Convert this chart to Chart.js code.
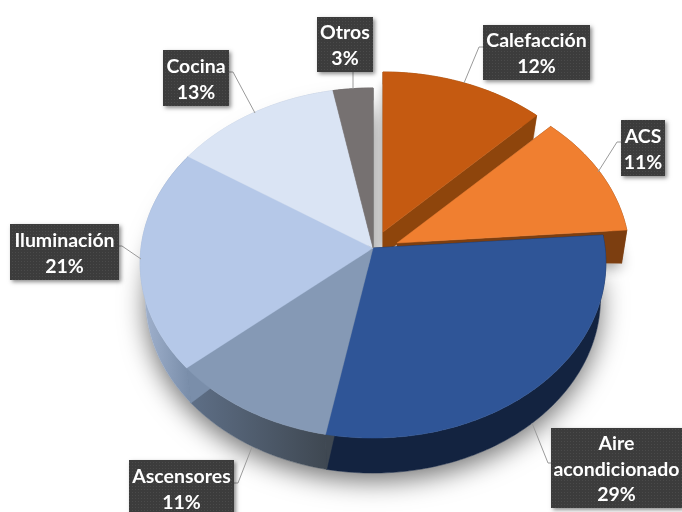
<!DOCTYPE html>
<html><head><meta charset="utf-8">
<style>html,body{margin:0;padding:0;background:#fff;overflow:hidden}canvas{display:block}</style>
<script src="https://cdn.jsdelivr.net/npm/chart.js@4"></script>
</head><body><canvas id="c" width="682" height="512"></canvas>
<script>
const categories = ['Calefacción','ACS','Aire acondicionado','Ascensores','Iluminación','Cocina','Otros'];
const shares = [12.4, 11.4, 29.2, 10.7, 20.6, 12.7, 3.0];
const topColors = ['#C55A11','#F07F30','#2F5597','#8599B5','#B5C8E8','#DAE4F4','#767171'];
const wallStart = ['#8E450C','#7C3E10','#132340','#5F7088','#A3B4D0','#C4CEDE','#5A5656'];
const wallEnd   = ['#8E450C','#7C3E10','#132340','#3F4852','#7A8EAA','#AEB9CC','#4A4747'];
const labelText = [['Calefacción'],['ACS'],['Aire','acondicionado'],['Ascensores'],['Iluminación'],['Cocina'],['Otros']];

// layout of the picture, not data
const explode = [[10,-16],[24,-5],[0,0],[0,0],[0,0],[0,0],[0,0]];
const faceExtra = [5,0,0,0,0,0,0];
const boxes = [[483,25,107,55],[621,120,44,56],[551,428,131,80],[129,460,105,56],[10,224,109,56],[163,50,66,56],[317,17,56,55]];
const leaders = [
  [[464,83],[479,47],[483,47]],
  [[598,172],[617,142],[621,142]],
  [[532,423],[548,463],[551,463]],
  [[252,447],[238,483],[234,483]],
  [[141,259],[122,246],[119,246]],
  [[255,113],[233,72],[229,72]],
  [[353,89],[353,72]]
];
const K = -0.0857, FLAT = 0.749, SHRINK = 0.977;

function project(arc, dx, dy, t, r){
  const ux = Math.cos(t)*r, uy = Math.sin(t)*r, w = 1 + K*uy;
  return [arc.x + dx + arc.outerRadius*ux/w, arc.y + dy + FLAT*arc.outerRadius*uy/w, ux, uy, r];
}
function lowerPoint(arc, dx, dy, p){
  const edge = p[3] >= 0 ? 35 : 35 + (p[3]/Math.max(p[4],1e-6))*22.5;
  const d = 18 + p[4]*(edge-18);
  const cx = arc.x + dx;
  return [cx + (p[0]-cx)*(1-(1-SHRINK)*p[4]), p[1]+d];
}
function rim(arc, dx, dy){
  const pts = [], n = Math.max(2, Math.ceil((arc.endAngle-arc.startAngle)/0.015));
  for(let i=0;i<=n;i++) pts.push(project(arc,dx,dy,arc.startAngle+(arc.endAngle-arc.startAngle)*i/n,1));
  return pts;
}
function poly(ctx, pts){ pts.forEach((p,i)=> i?ctx.lineTo(p[0],p[1]):ctx.moveTo(p[0],p[1])); ctx.closePath(); }

function wallFace(ctx, arc, i){
  const [dx,dy] = explode[i], pts = rim(arc,dx,dy), low = pts.map(p=>lowerPoint(arc,dx,dy,p));
  const apexT = project(arc,dx,dy,arc.startAngle,0), apexB = lowerPoint(arc,dx,dy,apexT);
  let xs = pts.map(p=>p[0]);
  const g = ctx.createLinearGradient(Math.min(...xs),0,Math.max(...xs),0);
  g.addColorStop(0,wallStart[i]); g.addColorStop(1,wallEnd[i]);
  ctx.fillStyle = g; ctx.strokeStyle = g; ctx.lineWidth = .5;
  const e = faceExtra[i];
  [pts[0],pts[pts.length-1]].forEach((p,j)=>{
    const b = j?low[low.length-1]:low[0];
    ctx.beginPath(); poly(ctx,[apexT,p,[b[0],b[1]+(j?e:0)],[apexB[0],apexB[1]+(j?e:0)]]); ctx.fill(); ctx.stroke();
  });
  ctx.beginPath(); poly(ctx,[...pts,...low.slice().reverse()]); ctx.fill(); ctx.stroke();
}
function topFace(ctx, arc, i){
  const [dx,dy] = explode[i];
  const apex = project(arc,dx,dy,arc.startAngle,0);
  ctx.fillStyle = arc.options.backgroundColor; ctx.strokeStyle = arc.options.backgroundColor; ctx.lineWidth=.5;
  ctx.beginPath(); poly(ctx,[apex,...rim(arc,dx,dy)]); ctx.fill(); ctx.stroke();
}
function sliceShadow(ctx, arc, i, blur, off, col){
  const [dx,dy] = explode[i];
  const pts = rim(arc,dx,dy), low = pts.map(p=>lowerPoint(arc,dx,dy,p));
  const apex = project(arc,dx,dy,arc.startAngle,0), ab = lowerPoint(arc,dx,dy,apex);
  ctx.save();
  ctx.shadowColor = col; ctx.shadowBlur = blur; ctx.shadowOffsetY = off; ctx.shadowOffsetX = 0;
  ctx.fillStyle = '#fff';
  ctx.beginPath(); poly(ctx,[ab,...low]); ctx.fill();
  ctx.restore();
}

const pieDraw = {
  id:'pieDraw',
  beforeDatasetsDraw(chart){
    const ctx = chart.ctx, arcs = chart.getDatasetMeta(0).data;
    const main = [2,3,4,5,6];
    ctx.save();
    ctx.shadowColor='rgba(0,0,0,.55)'; ctx.shadowBlur=26; ctx.shadowOffsetY=8; ctx.fillStyle='#fff';
    ctx.beginPath();
    main.forEach(i=>{
      const a=arcs[i]; const p=rim(a,0,0), l=p.map(q=>lowerPoint(a,0,0,q));
      const ap=project(a,0,0,a.startAngle,0), ab=lowerPoint(a,0,0,ap);
      poly(ctx,[ab,...l]);
    });
    ctx.fill();
    ctx.restore();
    sliceShadow(ctx,arcs[1],1,14,4,'rgba(0,0,0,.4)');
    sliceShadow(ctx,arcs[0],0,10,0,'rgba(0,0,0,.3)');
    [0,1].forEach(i=>{ wallFace(ctx,arcs[i],i); topFace(ctx,arcs[i],i); });
    main.forEach(i=>wallFace(ctx,arcs[i],i));
    main.forEach(i=>topFace(ctx,arcs[i],i));
    return false;
  },
  afterDraw(chart){
    const ctx = chart.ctx;
    const pc = document.createElement('canvas'); pc.width=3; pc.height=3;
    const px = pc.getContext('2d');
    px.fillStyle='#3C3C3C'; px.fillRect(0,0,3,3);
    px.fillStyle='#4A4A4A'; px.fillRect(0,0,1,1);
    const pattern = ctx.createPattern(pc,'repeat');
    ctx.save();
    ctx.strokeStyle='#9A9A9A'; ctx.lineWidth=1;
    leaders.forEach(l=>{ ctx.beginPath(); l.forEach((p,i)=> i?ctx.lineTo(p[0],p[1]):ctx.moveTo(p[0],p[1])); ctx.stroke(); });
    categories.forEach((c,i)=>{
      const [x,y,w,h] = boxes[i];
      ctx.save();
      ctx.shadowColor='rgba(0,0,0,.45)'; ctx.shadowBlur=4; ctx.shadowOffsetX=1.5; ctx.shadowOffsetY=1.5;
      ctx.fillStyle='#3C3C3C'; ctx.fillRect(x,y,w,h);
      ctx.restore();
      ctx.fillStyle=pattern; ctx.fillRect(x,y,w,h);
      const lines = [...labelText[i], Math.round(shares[i])+'%'];
      const lh = 25.6, cx = x+w/2, y0 = y+h/2-(lines.length-1)*lh/2;
      ctx.font='bold 19.5px Lato'; ctx.textAlign='center'; ctx.textBaseline='middle'; ctx.fillStyle='#fff';
      lines.forEach((t,j)=>ctx.fillText(t,cx,y0+j*lh+1.5));
    });
    ctx.restore();
  }
};

new Chart(document.getElementById('c'),{
  type:'pie',
  data:{labels:categories,datasets:[{data:shares,backgroundColor:topColors,borderWidth:0}]},
  options:{
    responsive:false,animation:false,
    layout:{padding:{left:141,right:77,top:16,bottom:32}},
    plugins:{legend:{display:false},tooltip:{enabled:false}}
  },
  plugins:[pieDraw]
});
</script></body></html>
